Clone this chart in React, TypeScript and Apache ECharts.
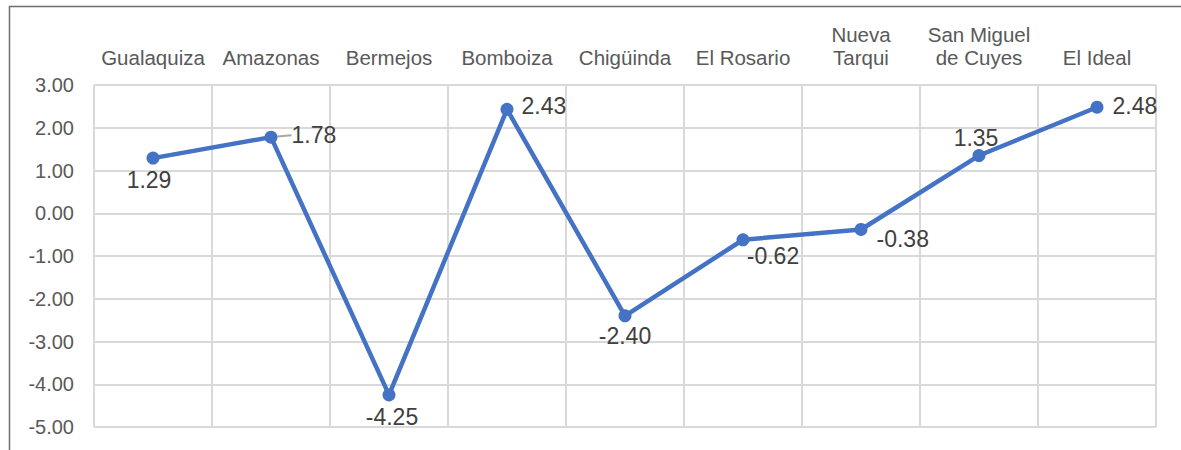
import React, { useEffect, useRef } from "react";
import * as echarts from "echarts";

const categories = [
  "Gualaquiza",
  "Amazonas",
  "Bermejos",
  "Bomboiza",
  "Chigüinda",
  "El Rosario",
  "Nueva\nTarqui",
  "San Miguel\nde Cuyes",
  "El Ideal",
];
const values = [1.29, 1.78, -4.25, 2.43, -2.4, -0.62, -0.38, 1.35, 2.48];
const labelPositions = ["bottom", "right", "bottom", "right", "bottom", "bottom", "right", "top", "right"];
const labelShifts: number[][] = [
  [-4, -4],
  [6, -2],
  [3, -4],
  [0, -3],
  [0, -6],
  [30, -10],
  [1, 10],
  [-3, 8],
  [1, -1],
];

export default function App() {
  const ref = useRef<HTMLDivElement>(null);
  useEffect(() => {
    if (!ref.current) return;
    const chart = echarts.init(ref.current, null, { renderer: "svg" });
    const data = values.map((v, i) => ({
      value: v,
      label: { position: labelPositions[i] },
      labelLine: { show: i === 1 },
    }));
    chart.setOption({
      animation: false,
      backgroundColor: "#ffffff",
      textStyle: { fontFamily: "Liberation Sans, Arial, sans-serif" },
      graphic: [
        {
          type: "rect",
          shape: { x: 9.5, y: 6.5, width: 1200, height: 500 },
          style: { fill: "none", stroke: "#6e6e6e", lineWidth: 1.5 },
          silent: true,
          z: -1,
        },
      ],
      grid: { left: 94, right: 25, top: 85, bottom: 23 },
      xAxis: {
        type: "category",
        position: "top",
        data: categories,
        boundaryGap: true,
        axisLine: { show: false },
        axisTick: { show: false },
        axisLabel: {
          interval: 0,
          color: "#595959",
          fontSize: 20.5,
          lineHeight: 23,
          margin: 16,
          fontFamily: "Liberation Sans, Arial, sans-serif",
        },
        splitLine: { show: true, lineStyle: { color: "#d9d9d9", width: 2 } },
      },
      yAxis: {
        type: "value",
        min: -5,
        max: 3,
        interval: 1,
        axisLine: { show: false },
        axisTick: { show: false },
        axisLabel: {
          color: "#595959",
          fontSize: 20,
          margin: 20,
          formatter: (v: number) => v.toFixed(2),
          fontFamily: "Liberation Sans, Arial, sans-serif",
        },
        splitLine: { show: true, lineStyle: { color: "#d9d9d9", width: 2 } },
      },
      series: [
        {
          type: "line",
          data,
          symbol: "circle",
          symbolSize: 13,
          lineStyle: { color: "#4472C4", width: 4.5 },
          itemStyle: { color: "#4472C4" },
          label: {
            show: true,
            color: "#404040",
            fontSize: 23,
            distance: 8,
            formatter: (p: any) => Number(p.value).toFixed(2),
            fontFamily: "Liberation Sans, Arial, sans-serif",
          },
          labelLine: { lineStyle: { color: "#a6a6a6", width: 2 } },
          labelLayout: (p: any) => {
            const s = labelShifts[p.dataIndex] || [0, 0];
            return { dx: s[0], dy: s[1] };
          },
        },
      ],
    });
    return () => chart.dispose();
  }, []);
  return (
    <div
      ref={ref}
      style={{ position: "absolute", left: 0, top: 0, width: 1181, height: 450 }}
    />
  );
}
